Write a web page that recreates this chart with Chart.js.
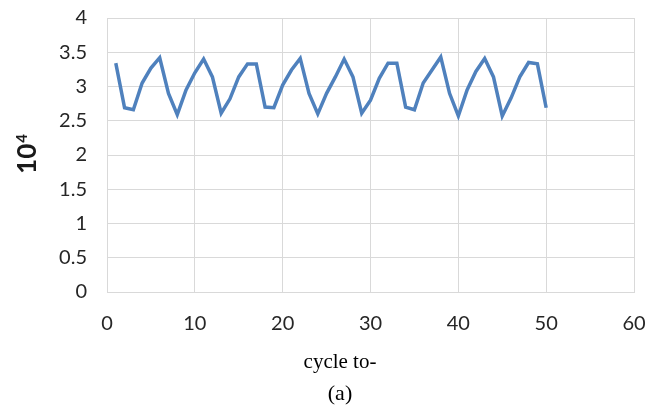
<!DOCTYPE html>
<html><head><meta charset="utf-8">
<script src="https://cdn.jsdelivr.net/npm/chart.js@4/dist/chart.umd.min.js"></script>
<style>html,body{margin:0;padding:0;background:#fff;}#wrap{width:651px;height:412px;}</style>
</head><body><div id="wrap"><canvas id="c" width="651" height="412"></canvas></div>
<script>
const cycles = [1,2,3,4,5,6,7,8,9,10,11,12,13,14,15,16,17,18,19,20,21,22,23,24,25,26,27,28,29,30,31,32,33,34,35,36,37,38,39,40,41,42,43,44,45,46,47,48,49,50];
const values = [3.34,2.69,2.66,3.05,3.27,3.42,2.9,2.59,2.95,3.2,3.4,3.14,2.61,2.82,3.14,3.33,3.33,2.7,2.69,3.02,3.24,3.41,2.9,2.6,2.9,3.14,3.4,3.14,2.61,2.8,3.12,3.34,3.34,2.7,2.66,3.05,3.24,3.43,2.9,2.57,2.95,3.22,3.41,3.14,2.57,2.83,3.14,3.35,3.33,2.69];
const xTitle = "cycle to-";
const yTitleBase = "10";
const yTitleExp = "4";
const caption = "(a)";

const tickFont = {family: "Lato, 'Open Sans', sans-serif", size: 20};

const textPlugin = {
  id: 'texts',
  afterDraw(chart) {
    const ctx = chart.ctx;
    ctx.save();
    ctx.fillStyle = '#000';
    ctx.textAlign = 'center';
    ctx.textBaseline = 'middle';
    ctx.font = "21px 'Liberation Serif', 'Times New Roman', serif";
    ctx.fillText(xTitle, 340, 362);
    ctx.font = "22px 'Liberation Serif', 'Times New Roman', serif";
    ctx.fillText(caption, 340, 394);
    // rotated y title 10^4
    ctx.translate(27, 154);
    ctx.rotate(-Math.PI / 2);
    ctx.fillStyle = '#1a1a1a';
    ctx.textAlign = 'left';
    ctx.textBaseline = 'alphabetic';
    ctx.font = "bold 26px Lato, 'Open Sans', sans-serif";
    const w = ctx.measureText(yTitleBase).width;
    ctx.font = "bold 15px Lato, 'Open Sans', sans-serif";
    const w2 = ctx.measureText(yTitleExp).width;
    const start = -(w + w2 + 1) / 2;
    ctx.font = "bold 26px Lato, 'Open Sans', sans-serif";
    ctx.fillText(yTitleBase, start, 9);
    ctx.font = "bold 15px Lato, 'Open Sans', sans-serif";
    ctx.fillText(yTitleExp, start + w + 1, 0);
    ctx.restore();
  }
};

new Chart(document.getElementById('c'), {
  type: 'line',
  data: {
    datasets: [{
      data: cycles.map((c,i)=>({x:c, y:values[i]})),
      borderColor: '#4f81bd',
      borderWidth: 3.5,
      pointRadius: 0,
      tension: 0,
      fill: false
    }]
  },
  plugins: [textPlugin],
  options: {
    responsive: false,
    animation: false,
    devicePixelRatio: 1,
    layout: {padding: {left: 10, right: 17, top: 18, bottom: 0}},
    plugins: {
      legend: {display: false},
      tooltip: {enabled: false}
    },
    scales: {
      x: {
        type: 'linear', min: 0, max: 60,
        afterFit(scale) { scale.height = 120; scale.paddingLeft = 0; scale.paddingRight = 0; },
        ticks: {stepSize: 10, color: '#262626', font: tickFont, padding: 20, maxRotation: 0},
        grid: {color: '#d9d9d9', lineWidth: 1, drawTicks: false},
        border: {color: '#d9d9d9'}
      },
      y: {
        min: 0, max: 4,
        afterFit(scale) { scale.width = 97; scale.paddingTop = 0; scale.paddingBottom = 0; },
        ticks: {stepSize: 0.5, color: '#262626', font: tickFont, padding: 20,
          callback: (v) => String(Math.round(v * 10) / 10)},
        grid: {color: '#d9d9d9', lineWidth: 1, drawTicks: false},
        border: {color: '#d9d9d9'}
      }
    }
  }
});
</script></body></html>
